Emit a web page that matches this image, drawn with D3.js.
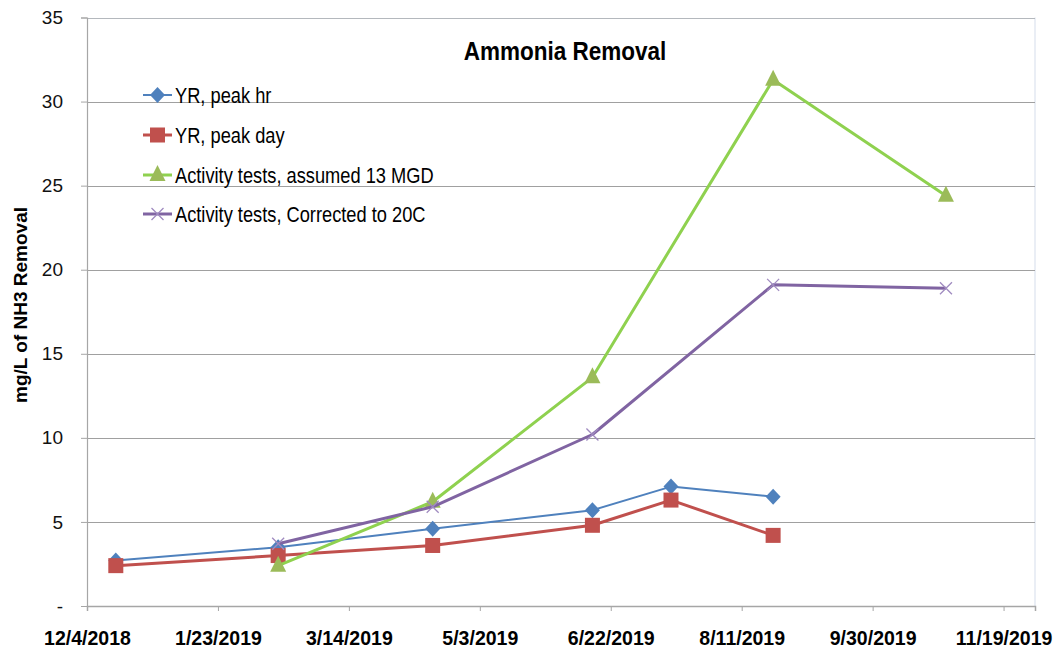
<!DOCTYPE html>
<html>
<head>
<meta charset="utf-8">
<script src="https://cdn.jsdelivr.net/npm/d3@7"></script>
<style>
  html, body { margin: 0; padding: 0; background: #fff; }
  svg { display: block; }
  text { font-family: "Liberation Sans", Arial, sans-serif; }
</style>
</head>
<body>
<svg id="chart" width="1054" height="650"></svg>
<script>
// Sampling dates and measured removals (mg/L)
const peakHrDates  = ["2018-12-15", "2019-02-15", "2019-04-15", "2019-06-15", "2019-07-15", "2019-08-23"];
const peakHrValues = [2.7, 3.5, 4.6, 5.7, 7.1, 6.5];

const peakDayDates  = ["2018-12-15", "2019-02-15", "2019-04-15", "2019-06-15", "2019-07-15", "2019-08-23"];
const peakDayValues = [2.4, 3.0, 3.6, 4.8, 6.3, 4.2];

const assumedDates  = ["2019-02-15", "2019-04-15", "2019-06-15", "2019-08-23", "2019-10-28"];
const assumedValues = [2.4, 6.2, 13.6, 31.3, 24.4];

const correctedDates  = ["2019-02-15", "2019-04-15", "2019-06-15", "2019-08-23", "2019-10-28"];
const correctedValues = [3.7, 5.9, 10.2, 19.1, 18.9];

const seriesNames = ["YR, peak hr", "YR, peak day", "Activity tests, assumed 13 MGD", "Activity tests, Corrected to 20C"];

const xTickDates  = ["2018-12-04", "2019-01-23", "2019-03-14", "2019-05-03", "2019-06-22", "2019-08-11", "2019-09-30", "2019-11-19"];
const xTickLabels = ["12/4/2018", "1/23/2019", "3/14/2019", "5/3/2019", "6/22/2019", "8/11/2019", "9/30/2019", "11/19/2019"];
const yTickValues = [0, 5, 10, 15, 20, 25, 30, 35];
const yTickLabels = ["-", "5", "10", "15", "20", "25", "30", "35"];

const parse = d3.utcParse("%Y-%m-%d");

const svg = d3.select("#chart");
const plotLeft = 87, plotRight = 1035, plotTop = 17.5, plotBottom = 606;

const x = d3.scaleUtc()
  .domain([parse("2018-12-04"), parse("2019-12-01")])
  .range([plotLeft, plotRight]);
const y = d3.scaleLinear().domain([0, 35]).range([plotBottom, plotTop]);

// plot area outline on the right
svg.append("line")
  .attr("x1", plotRight).attr("x2", plotRight).attr("y1", plotTop).attr("y2", plotBottom)
  .attr("stroke", "#e3e9f2").attr("stroke-width", 1.5);

// horizontal gridlines
svg.append("g").selectAll("line")
  .data(yTickValues.filter(v => v > 0))
  .join("line")
  .attr("x1", plotLeft).attr("x2", plotRight)
  .attr("y1", d => Math.round(y(d)) + 0.5).attr("y2", d => Math.round(y(d)) + 0.5)
  .attr("stroke", d => d === 35 ? "#b4b8bd" : "#a0a0a0").attr("stroke-width", 1.2);

// y axis
const yAxis = d3.axisLeft(y)
  .tickValues(yTickValues)
  .tickSize(6)
  .tickPadding(18)
  .tickFormat((d, i) => yTickLabels[i]);
const gy = svg.append("g").attr("transform", `translate(${plotLeft},0)`).call(yAxis);
gy.select(".domain").attr("stroke", "#a6a6a6").attr("stroke-width", 1.2);
gy.selectAll(".tick line").attr("stroke", "#a6a6a6");
gy.selectAll(".tick text")
  .attr("font-size", 19).attr("fill", "#111")
  .style("font-family", "\"Liberation Sans\", sans-serif");

// x axis
const xAxis = d3.axisBottom(x)
  .tickValues(xTickDates.map(parse))
  .tickSize(5)
  .tickPadding(19)
  .tickFormat((d, i) => xTickLabels[i]);
const gx = svg.append("g").attr("transform", `translate(0,${plotBottom})`).call(xAxis);
gx.select(".domain").attr("stroke", "#a6a6a6").attr("stroke-width", 1.5);
gx.selectAll(".tick line").attr("stroke", "#a6a6a6");
gx.selectAll(".tick text")
  .attr("font-size", 21).attr("font-weight", "bold").attr("fill", "#000")
  .attr("dy", "0.71em")
  .attr("transform", "scale(0.93,1)")
  .style("font-family", "\"Liberation Sans\", sans-serif");

// y axis title
svg.append("text")
  .attr("transform", `translate(27,305) rotate(-90)`)
  .attr("text-anchor", "middle")
  .attr("font-size", 19).attr("font-weight", "bold")
  .text("mg/L of NH3 Removal");

// chart title
svg.append("text")
  .attr("transform", "translate(565,60) scale(0.9,1)")
  .attr("text-anchor", "middle")
  .attr("font-size", 25).attr("font-weight", "bold")
  .text("Ammonia Removal");

const series = [
  { name: seriesNames[0], dates: peakHrDates, values: peakHrValues, line: "#4f81bd", mark: "#4f81bd", width: 2, symbol: "diamond" },
  { name: seriesNames[1], dates: peakDayDates, values: peakDayValues, line: "#c0504d", mark: "#c0504d", width: 3, symbol: "square" },
  { name: seriesNames[2], dates: assumedDates, values: assumedValues, line: "#8fd14f", mark: "#9bbb59", width: 3, symbol: "triangle" },
  { name: seriesNames[3], dates: correctedDates, values: correctedValues, line: "#8064a2", mark: "#a08bc0", width: 3, symbol: "x" }
];

function drawMarker(g, sym, color, cx, cy) {
  if (sym === "diamond") {
    g.append("path").attr("d", `M${cx},${cy - 8}L${cx + 7.5},${cy}L${cx},${cy + 8}L${cx - 7.5},${cy}Z`).attr("fill", color);
  } else if (sym === "square") {
    g.append("rect").attr("x", cx - 7.5).attr("y", cy - 7.5).attr("width", 15).attr("height", 15).attr("fill", color);
  } else if (sym === "triangle") {
    g.append("path").attr("d", `M${cx},${cy - 10}L${cx + 8},${cy + 6}L${cx - 8},${cy + 6}Z`).attr("fill", color);
  } else if (sym === "x") {
    g.append("path").attr("d", `M${cx - 6},${cy - 6}L${cx + 6},${cy + 6}M${cx + 6},${cy - 6}L${cx - 6},${cy + 6}`)
      .attr("stroke", color).attr("stroke-width", 1.3).attr("fill", "none");
  }
}

const line = d3.line().x(d => x(d.date)).y(d => y(d.value));

series.forEach(s => {
  const pts = s.dates.map((d, i) => ({ date: parse(d), value: s.values[i] }));
  const g = svg.append("g");
  g.append("path").datum(pts)
    .attr("d", line)
    .attr("fill", "none")
    .attr("stroke", s.line)
    .attr("stroke-width", s.width)
    .attr("stroke-linejoin", "round");
  pts.forEach(p => drawMarker(g, s.symbol, s.mark, x(p.date), y(p.value)));
});

// legend
const legendY = [95, 135, 175, 214];
series.forEach((s, i) => {
  const g = svg.append("g");
  const ly = legendY[i];
  g.append("line").attr("x1", 143).attr("x2", 172).attr("y1", ly).attr("y2", ly)
    .attr("stroke", s.line).attr("stroke-width", s.width);
  drawMarker(g, s.symbol, s.mark, 157.5, ly);
  g.append("text")
    .attr("transform", `translate(175,${ly + 8}) scale(0.83,1)`)
    .attr("font-size", 22).attr("fill", "#000")
    .text(s.name);
});
</script>
</body>
</html>
